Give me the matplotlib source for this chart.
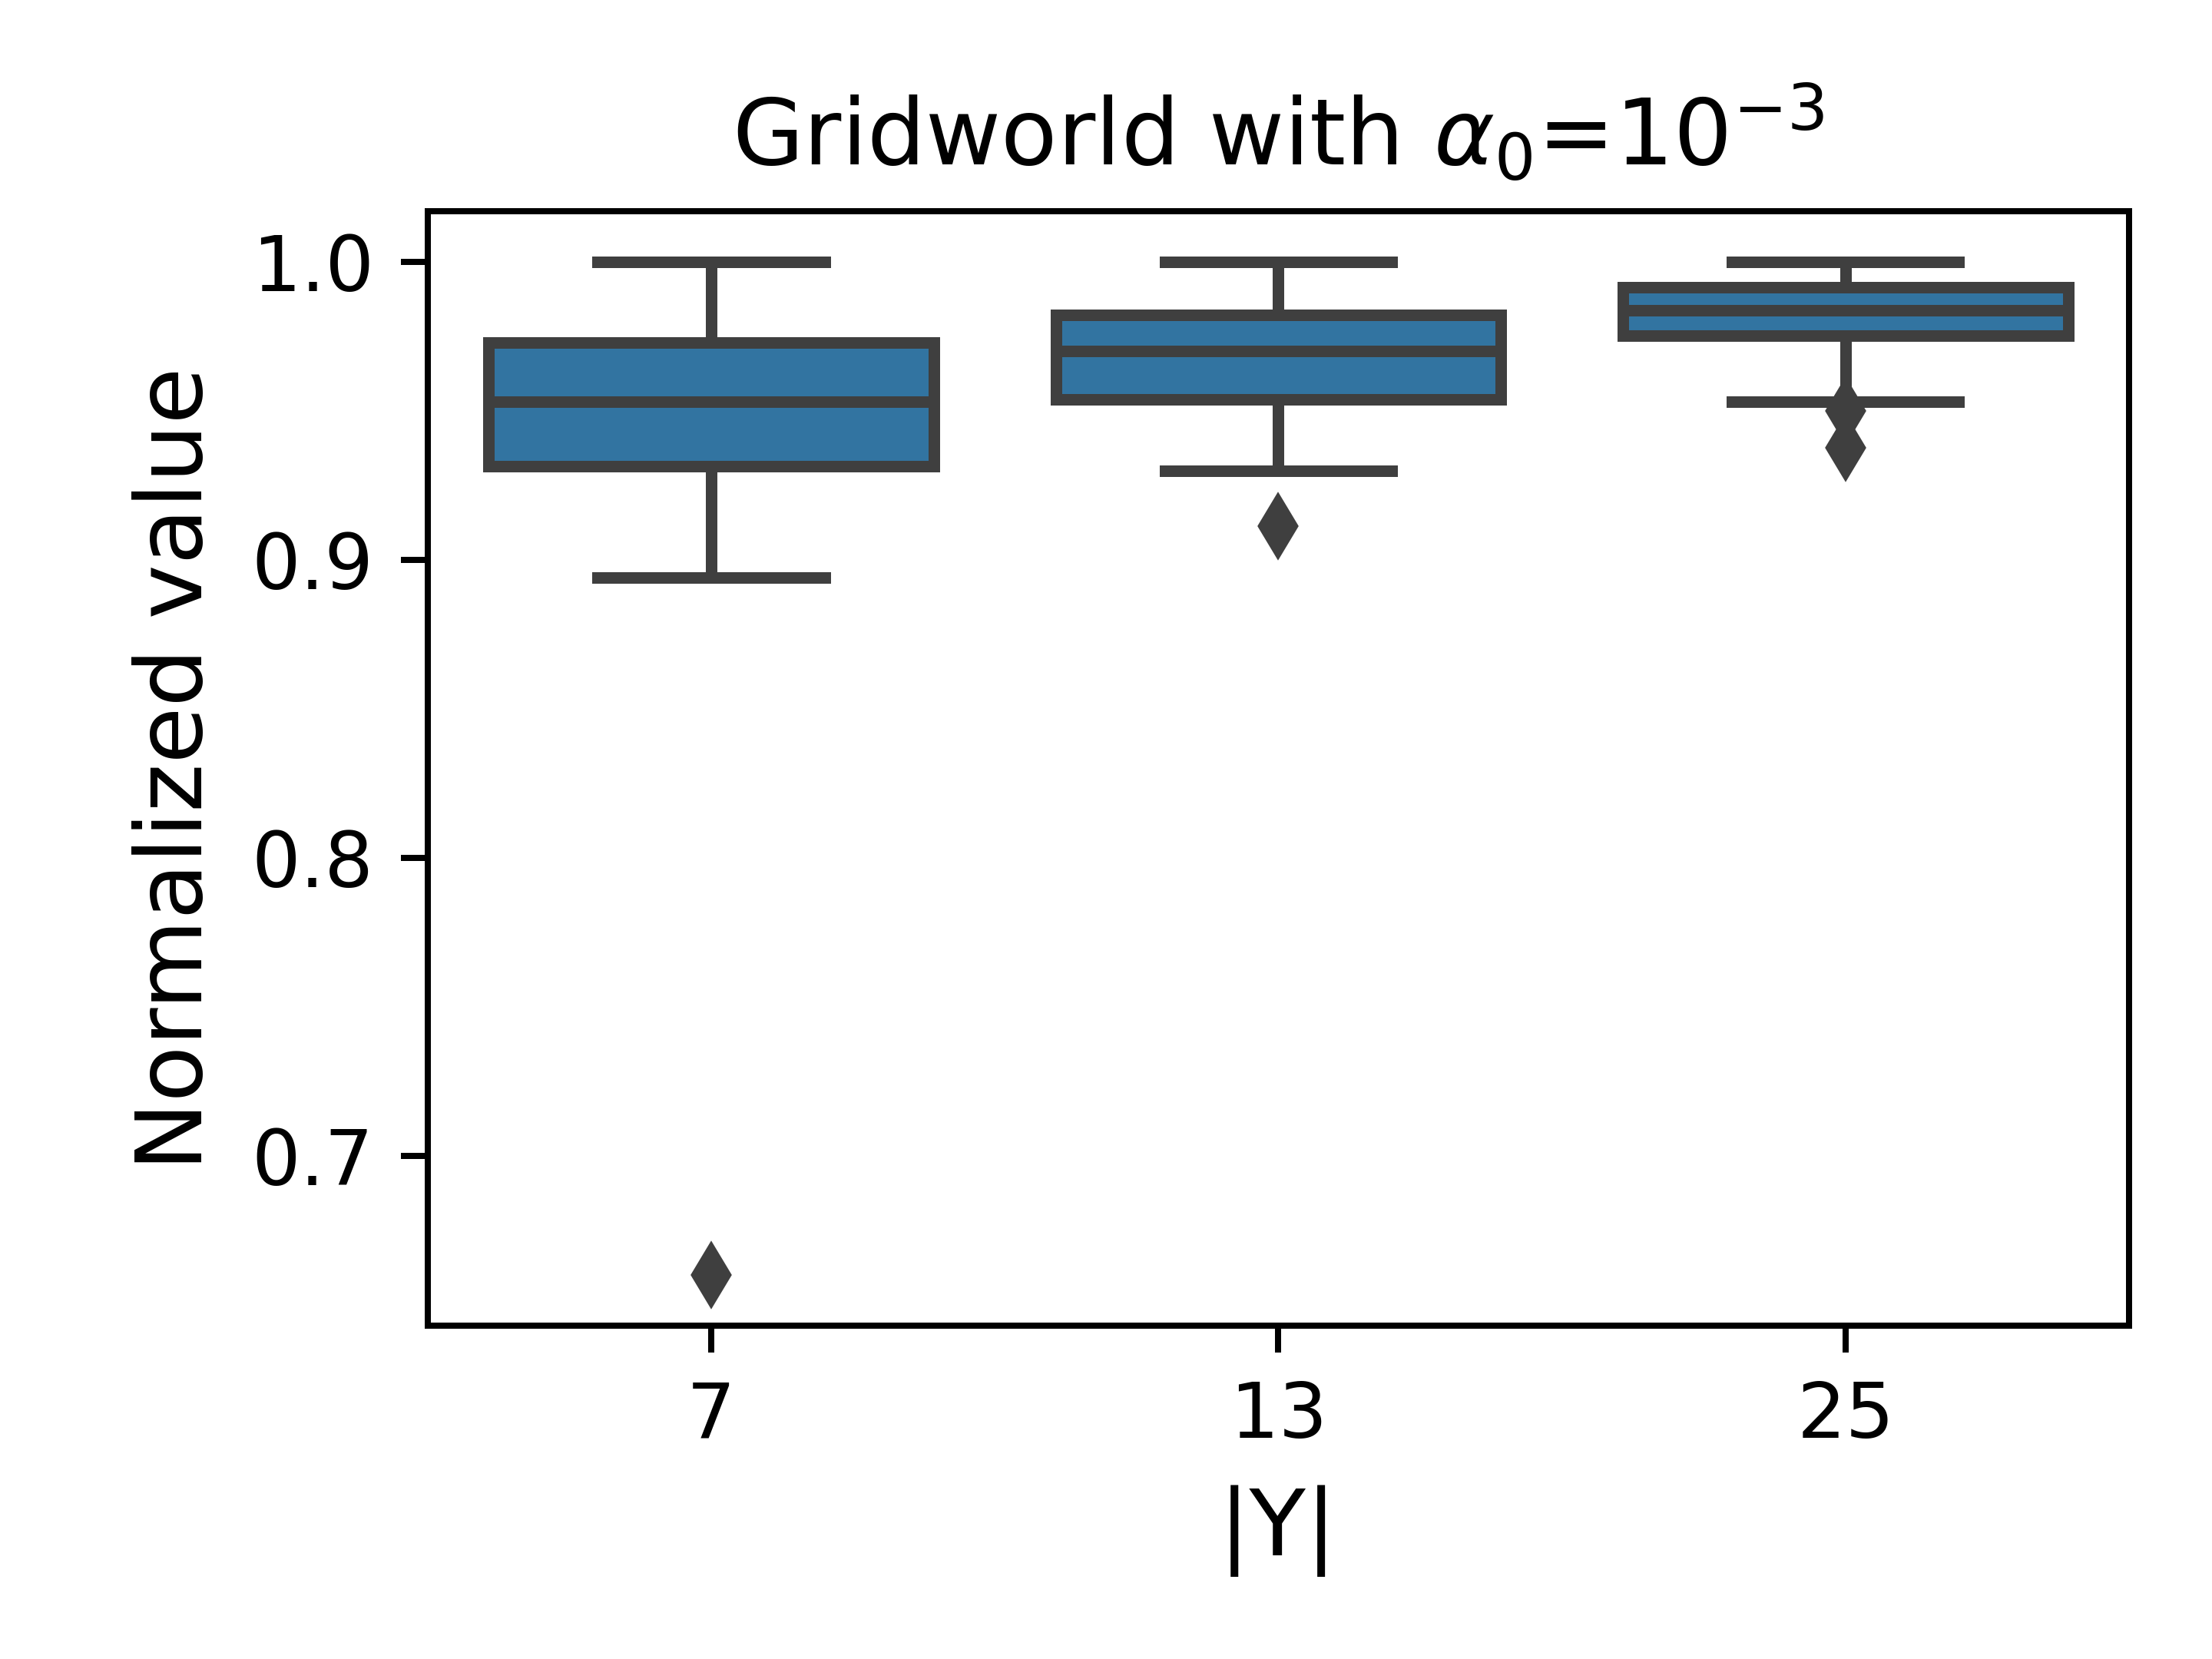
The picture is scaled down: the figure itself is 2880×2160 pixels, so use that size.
import matplotlib
matplotlib.use('Agg')
import matplotlib.pyplot as plt

# |Y| categories and box statistics
sizes = ['7', '13', '25']
whislo = [0.894, 0.930, 0.953]
q1 = [0.9314, 0.9538, 0.9753]
med = [0.9531, 0.9701, 0.9838]
q3 = [0.9730, 0.9822, 0.9915]
whishi = [1.0, 1.0, 1.0]
fliers = [[0.660], [0.9114], [0.950, 0.9376]]
yticks = [0.7, 0.8, 0.9, 1.0]

box_color = '#3274a1'
line_color = '#3f3f3f'

stats = []
for i in range(len(sizes)):
    stats.append(dict(whislo=whislo[i], q1=q1[i], med=med[i], q3=q3[i],
                      whishi=whishi[i], fliers=fliers[i]))

fig, ax = plt.subplots(figsize=(4, 3))
fig.subplots_adjust(left=0.1933, right=0.9625, bottom=0.2009, top=0.8727)

ax.bxp(stats, positions=range(len(sizes)), widths=0.785, capwidths=0.4,
       patch_artist=True,
       boxprops=dict(facecolor=box_color, edgecolor=line_color, linewidth=1.5),
       whiskerprops=dict(color=line_color, linewidth=1.5),
       capprops=dict(color=line_color, linewidth=1.5),
       medianprops=dict(color=line_color, linewidth=1.5),
       flierprops=dict(marker='d', markerfacecolor=line_color,
                       markeredgecolor=line_color, markersize=5))

ax.set_xlim(-0.5, len(sizes) - 0.5)
ax.set_xticks(range(len(sizes)))
ax.set_xticklabels(sizes)
ax.set_yticks(yticks)
ax.set_title(r"Gridworld with $\alpha_0$=10$^{-3}$", fontsize=12)
ax.set_xlabel("|Y|", fontsize=12)
ax.set_ylabel("Normalized value", fontsize=12)

fig.savefig('out.png', dpi=720)
